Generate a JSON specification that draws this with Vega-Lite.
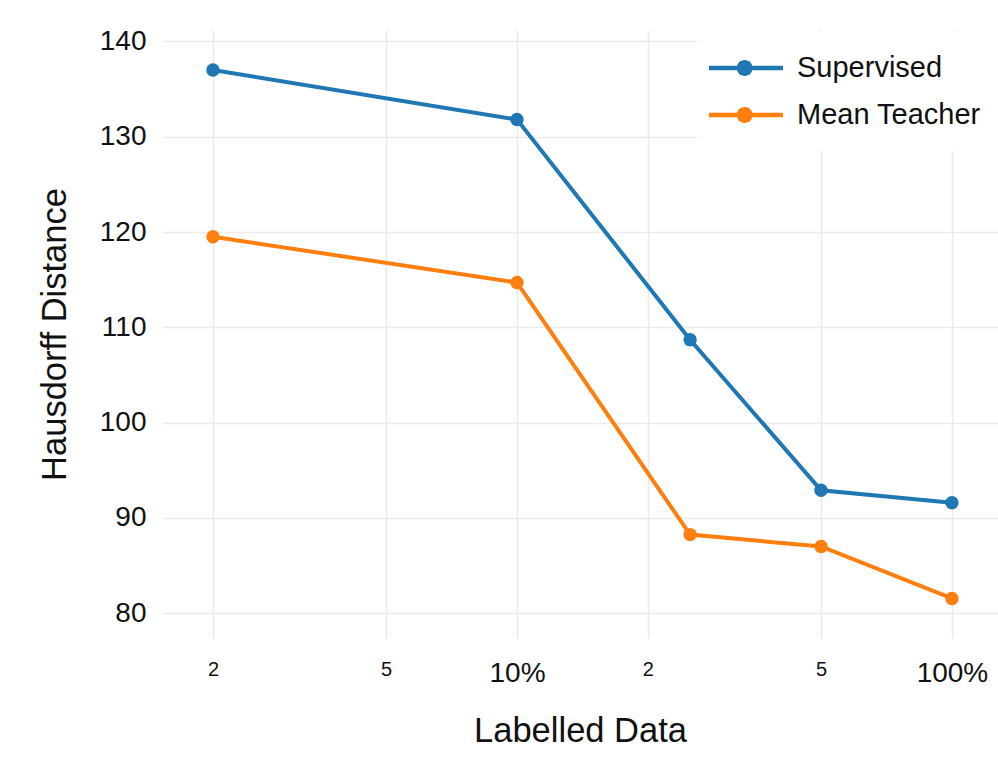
{
  "$schema": "https://vega.github.io/schema/vega-lite/v6.json",
  "autosize": "none",
  "padding": {"left": 162, "top": 30, "right": 0, "bottom": 120},
  "width": 836,
  "height": 608,
  "background": "white",
  "config": {
    "font": "Liberation Sans",
    "view": {"stroke": null}
  },
  "data": {
    "values": [
      {"pct": 2, "method": "Supervised", "hd": 137.0},
      {"pct": 10, "method": "Supervised", "hd": 131.8},
      {"pct": 25, "method": "Supervised", "hd": 108.7},
      {"pct": 50, "method": "Supervised", "hd": 92.9},
      {"pct": 100, "method": "Supervised", "hd": 91.6},
      {"pct": 2, "method": "Mean Teacher", "hd": 119.5},
      {"pct": 10, "method": "Mean Teacher", "hd": 114.7},
      {"pct": 25, "method": "Mean Teacher", "hd": 88.25},
      {"pct": 50, "method": "Mean Teacher", "hd": 87.0},
      {"pct": 100, "method": "Mean Teacher", "hd": 81.55}
    ]
  },
  "mark": {"type": "line", "strokeWidth": 4, "point": {"filled": true, "size": 180, "opacity": 1}},
  "encoding": {
    "x": {
      "field": "pct",
      "type": "quantitative",
      "scale": {"type": "log", "domain": [1.527, 127.6], "nice": false, "zero": false},
      "axis": {
        "title": "Labelled Data",
        "titleFontSize": 34.5,
        "titleFontWeight": "normal",
        "titleColor": "#111",
        "titlePadding": 27,
        "values": [2, 5, 10, 20, 50, 100],
        "labelExpr": "datum.value == 10 ? '10%' : datum.value == 100 ? '100%' : (datum.value == 2 || datum.value == 20) ? '2' : '5'",
        "labelFontSize": {"condition": {"test": "datum.value == 10 || datum.value == 100", "value": 28}, "value": 20},
        "labelColor": "#111",
        "labelBaseline": "top",
        "labelPadding": 21,
        "labelFlush": false,
        "labelOverlap": false,
        "ticks": false,
        "domain": false,
        "grid": true,
        "gridColor": "#ebebeb",
        "gridWidth": 1.6
      }
    },
    "y": {
      "field": "hd",
      "type": "quantitative",
      "scale": {"domain": [77.4, 141.2], "nice": false, "zero": false},
      "axis": {
        "title": "Hausdorff Distance",
        "titleFontSize": 34.5,
        "titleFontWeight": "normal",
        "titleColor": "#111",
        "titlePadding": 27,
        "values": [80, 90, 100, 110, 120, 130, 140],
        "labelFontSize": 28,
        "labelColor": "#111",
        "labelPadding": 16,
        "ticks": false,
        "domain": false,
        "grid": true,
        "gridColor": "#ebebeb",
        "gridWidth": 1.6
      }
    },
    "color": {
      "field": "method",
      "type": "nominal",
      "scale": {"domain": ["Supervised", "Mean Teacher"], "range": ["#1f77b4", "#ff7f0e"]},
      "legend": {
        "title": null,
        "orient": "none",
        "legendX": 535,
        "legendY": 2,
        "padding": 21,
        "fillColor": "white",
        "strokeColor": null,
        "symbolType": "M -1.6 -0.15 L 3.33 -0.15 L 3.33 0.15 L -1.6 0.15 Z M 1.313 0 A 0.533 0.533 0 1 1 0.247 0 A 0.533 0.533 0 1 1 1.313 0 Z",
        "symbolSize": 900,
        "symbolStrokeWidth": 0,
        "labelFontSize": 29,
        "labelColor": "#111",
        "labelOffset": 49,
        "rowPadding": 17,
        "labelLimit": 400,
        "encode": {
          "symbols": {
            "update": {
              "fill": {"scale": "color", "field": "value"},
              "stroke": {"value": "transparent"},
              "opacity": {"value": 1}
            }
          }
        }
      }
    }
  }
}
